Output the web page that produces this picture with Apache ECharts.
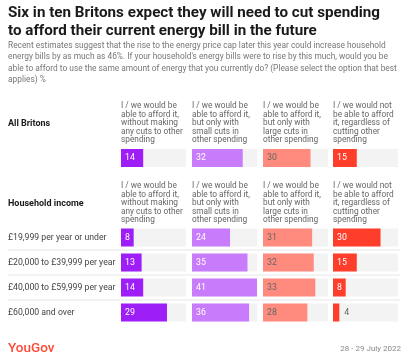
<!DOCTYPE html>
<html><head><meta charset="utf-8">
<script src="https://cdn.jsdelivr.net/npm/echarts@6/dist/echarts.min.js"></script>
<style>html,body{margin:0;padding:0;background:#fff}#c{width:410px;height:363px}</style>
</head><body><div id="c"></div>
<script>
const titleLines = ["Six in ten Britons expect they will need to cut spending", "to afford their current energy bill in the future"];
const subtitleLines = [
  "Recent estimates suggest that the rise to the energy price cap later this year could increase household",
  "energy bills by as much as 46%. If your household's energy bills were to rise by this much, would you be",
  "able to afford to use the same amount of energy that you currently do? (Please select the option that best",
  "applies) %"
];
const columnHeaders = [
  "I / we would be\nable to afford it,\nwithout making\nany cuts to other\nspending",
  "I / we would be\nable to afford it,\nbut only with\nsmall cuts in\nother spending",
  "I / we would be\nable to afford it,\nbut only with\nlarge cuts in\nother spending",
  "I / we would not\nbe able to afford\nit, regardless of\ncutting other\nspending"
];
const groupAll = "All Britons";
const groupIncome = "Household income";
const incomeCategories = ["£19,999 per year or under", "£20,000 to £39,999 per year", "£40,000 to £59,999 per year", "£60,000 and over"];
const allBritons = [14, 32, 30, 15];
const answer1 = [8, 13, 14, 29];
const answer2 = [24, 35, 41, 36];
const answer3 = [31, 32, 33, 28];
const answer4 = [30, 15, 8, 4];
const footerSource = "YouGov";
const footerDate = "28 - 29 July 2022";

const incomeValues = [answer1, answer2, answer3, answer4];
const colors = ["#9d1ef7", "#c87cfb", "#ff8b7f", "#ff3d2b"];
const labelColors = ["#fff", "#fff", "#666", "#fff"];
const colLeft = [121, 192, 263, 333];
const colW = 65;
const FONT = "Roboto";
const maxV = 41;

const grids = [], xAxes = [], yAxes = [], series = [];
function addGrid(top, height, cats, vals, c, showLabels) {
  const gi = grids.length;
  grids.push({left: colLeft[c], width: colW, top: top, height: height, containLabel: false});
  xAxes.push({gridIndex: gi, type: 'value', min: 0, max: maxV, show: false});
  yAxes.push({gridIndex: gi, type: 'category', data: cats, inverse: true,
    axisLine: {show: false}, axisTick: {show: false}, splitLine: {show: false},
    axisLabel: {show: showLabels, align: 'left', margin: colLeft[0] - 8, color: '#444', fontFamily: FONT, fontSize: 8.7}});
  series.push({type: 'bar', xAxisIndex: gi, yAxisIndex: gi, barWidth: 18,
    showBackground: true, backgroundStyle: {color: '#f3f3f3'},
    itemStyle: {color: colors[c]},
    data: vals.map(v => v < 5 ? {value: v, label: {position: 'right', color: '#666', distance: 5}} : v),
    label: {show: true, position: 'insideLeft', distance: 4, color: labelColors[c], fontFamily: FONT, fontSize: 8.8},
    animation: false, silent: true});
}
for (let c = 0; c < 4; c++) {
  addGrid(149, 18, [groupAll], [allBritons[c]], c, false);
  addGrid(225, 100, incomeCategories, incomeValues[c], c, c === 0);
}

const graphic = [];
titleLines.forEach((t, i) => graphic.push({type: 'text', left: 8, top: 6 + i * 17.5, style: {text: t, fontFamily: FONT, fontWeight: 'bold', fontSize: 15.2, fill: '#1a1a1a'}}));
subtitleLines.forEach((t, i) => graphic.push({type: 'text', left: 8, top: 42 + i * 11.3, style: {text: t, fontFamily: FONT, fontSize: 8.35, fill: '#777'}}));
columnHeaders.forEach((t, c) => {
  graphic.push({type: 'text', left: colLeft[c], top: 102, style: {text: t, fontFamily: FONT, fontSize: 8.3, lineHeight: 8.5, fill: '#666'}});
  graphic.push({type: 'text', left: colLeft[c], top: 182, style: {text: t, fontFamily: FONT, fontSize: 8.3, lineHeight: 8.5, fill: '#666'}});
});
graphic.push({type: 'text', left: 8, top: 119, style: {text: groupAll, fontFamily: FONT, fontWeight: 'bold', fontSize: 9, fill: '#1a1a1a'}});
graphic.push({type: 'text', left: 8, top: 199, style: {text: groupIncome, fontFamily: FONT, fontWeight: 'bold', fontSize: 9, fill: '#1a1a1a'}});
[250, 275, 300].forEach(y => graphic.push({type: 'line', shape: {x1: 8, y1: y, x2: 400, y2: y}, style: {stroke: '#e6e6e6', lineWidth: 1}}));
graphic.push({type: 'text', left: 8, top: 342, style: {text: footerSource, fontFamily: FONT, fontSize: 13.5, fill: '#ff4b36', fontWeight: 500}});
graphic.push({type: 'text', right: 9, top: 345, style: {text: footerDate, fontFamily: FONT, fontSize: 8, fill: '#888'}});

const chart = echarts.init(document.getElementById('c'), null, {renderer: 'canvas'});
chart.setOption({animation: false, grid: grids, xAxis: xAxes, yAxis: yAxes, series: series, graphic: graphic});
</script></body></html>
